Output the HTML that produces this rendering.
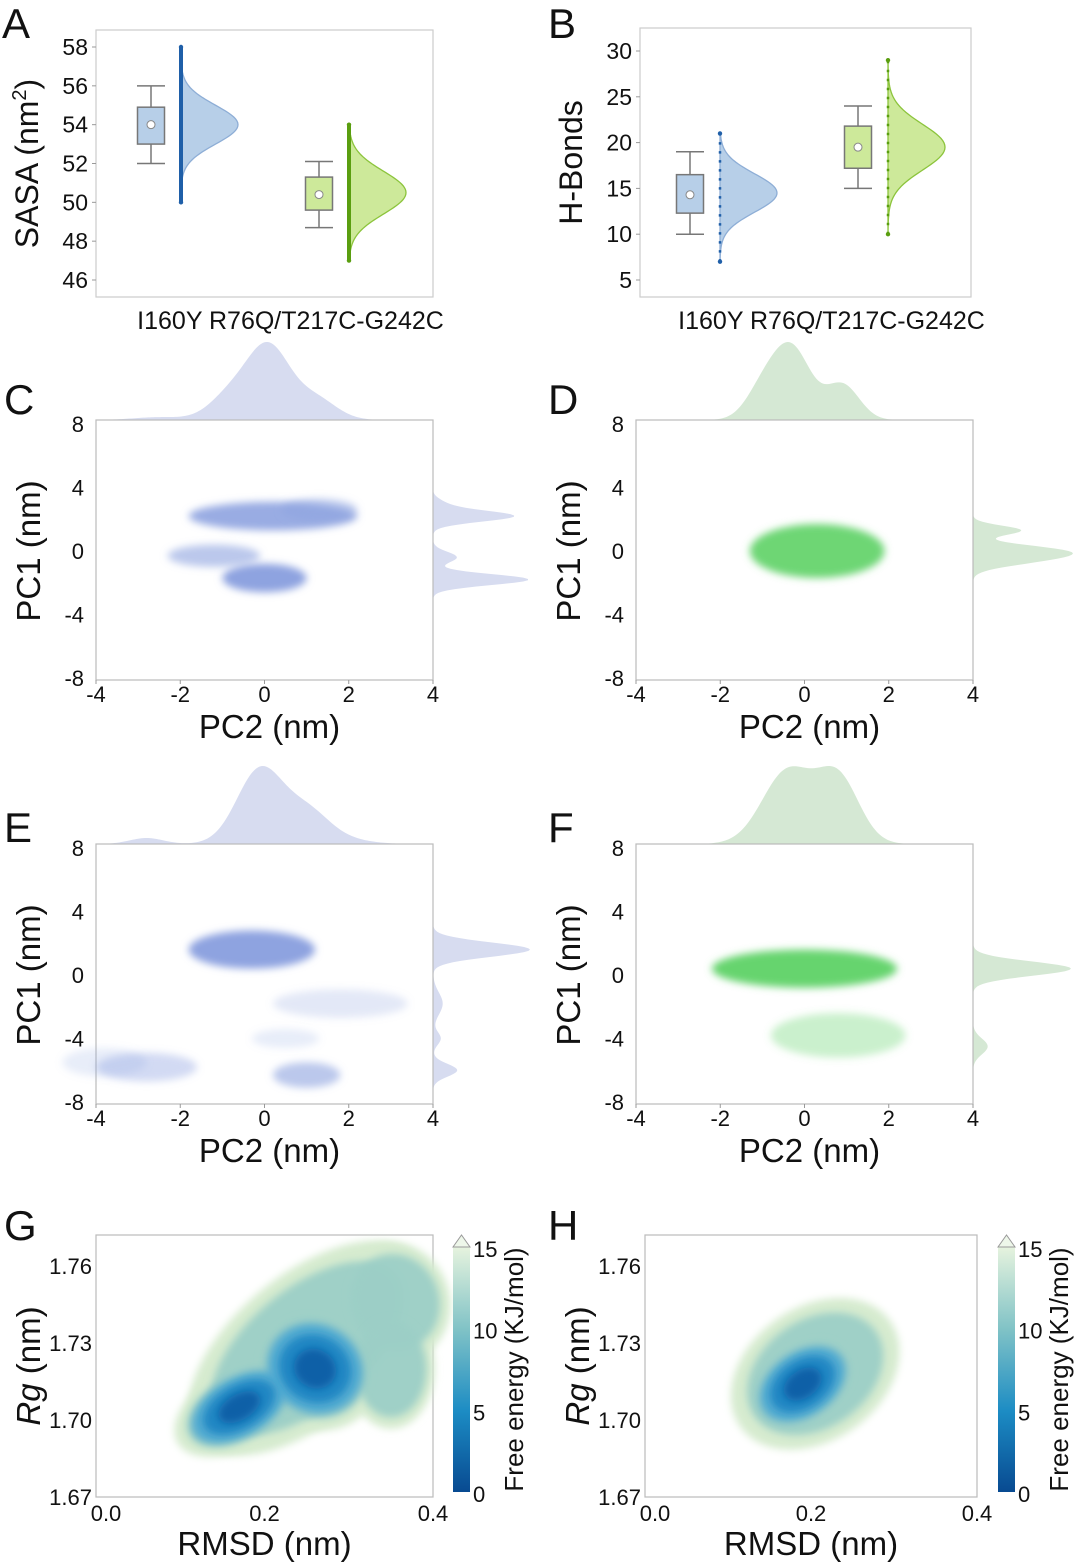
<!DOCTYPE html>
<html><head><meta charset="utf-8"><style>
html,body{margin:0;padding:0;background:#fff}
svg{display:block;font-family:"Liberation Sans",sans-serif}
</style></head><body>
<svg id="fig" width="1080" height="1564" viewBox="0 0 1080 1564" xmlns="http://www.w3.org/2000/svg">
<defs>
<filter id="blur4" x="-50%" y="-50%" width="200%" height="200%"><feGaussianBlur stdDeviation="4"/></filter>
<filter id="blur7" x="-50%" y="-50%" width="200%" height="200%"><feGaussianBlur stdDeviation="4"/></filter>
<linearGradient id="cbar" x1="0" y1="1" x2="0" y2="0">
<stop offset="0" stop-color="#084a91"/><stop offset="0.33" stop-color="#1c8cc4"/>
<stop offset="0.66" stop-color="#7fc2c6"/><stop offset="1" stop-color="#e6f3de"/></linearGradient>
</defs>
</svg>
<script>
// ---------- data ----------
const boxCats = ["I160Y", "R76Q/T217C-G242C"];
const sasaBox = [[52, 53, 54, 54.9, 56], [48.7, 49.6, 50.4, 51.3, 52.1]]; // whiskLo,q1,mean,q3,whiskHi
const sasaViolin = [[54, 1.0, 50, 58], [50.5, 1.1, 47, 54]]; // peak, sd, min, max
const hbBox = [[10, 12.3, 14.3, 16.5, 19], [15, 17.2, 19.5, 21.8, 24]];
const hbViolin = [[14.5, 2.1, 7, 21], [19.5, 2.5, 10, 29]];
const sasaTicks = [46, 48, 50, 52, 54, 56, 58];
const hbTicks = [5, 10, 15, 20, 25, 30];
const pcTicksX = [-4, -2, 0, 2, 4];
const pcTicksY = [8, 4, 0, -4, -8];
// clusters: cx, cy, rx, ry, alpha
const clustersC = [[0.2, 2.2, 2.0, 0.9, 0.9], [-1.2, -0.3, 1.1, 0.7, 0.6], [0, -1.7, 1.0, 0.9, 1.0], [1.3, 2.6, 0.9, 0.7, 0.5]];
const clustersD = [[0.3, 0, 1.6, 1.7, 0.95]];
const clustersE = [[-0.3, 1.6, 1.5, 1.2, 1], [1.8, -1.8, 1.6, 0.9, 0.25], [-2.8, -5.8, 1.2, 0.9, 0.4], [1, -6.3, 0.8, 0.8, 0.6], [0.5, -4, 0.8, 0.6, 0.2], [-3.8, -5.5, 1, 0.9, 0.2]];
const clustersF = [[0, 0.4, 2.2, 1.2, 1], [0.8, -3.8, 1.6, 1.4, 0.35]];
// marginal densities: pos, sd, height
const topC = [[0.1, 0.5, 1], [-0.8, 0.5, 0.35], [1.2, 0.5, 0.3], [-2.5, 0.6, 0.04]];
const rightC = [[2.2, 0.35, 0.85], [-1.8, 0.35, 1], [-0.4, 0.35, 0.25], [3, 0.3, 0.1]];
const topD = [[-0.3, 0.45, 1], [0.9, 0.4, 0.5], [-1, 0.4, 0.4]];
const rightD = [[1.3, 0.3, 0.6], [0, 0.4, 1], [-0.6, 0.4, 0.6]];
const topE = [[-0.1, 0.55, 1], [1, 0.5, 0.35], [-2.8, 0.4, 0.08], [1.5, 0.7, 0.1]];
const rightE = [[1.6, 0.45, 1], [-6, 0.4, 0.25], [-1.8, 0.7, 0.1], [-4, 0.4, 0.08]];
const topF = [[-0.4, 0.6, 0.9], [0.8, 0.5, 0.8]];
const rightF = [[0.4, 0.45, 1], [-4.5, 0.5, 0.15]];
// free energy basins: rmsd, rg, rx, ry, depth(0..1), rotation
const basinsG = [[0.25, 1.728, 0.13, 0.022, 0.3, -40], [0.355, 1.746, 0.05, 0.018, 0.3, -20], [0.35, 1.72, 0.04, 0.018, 0.3, 0], [0.17, 1.705, 0.065, 0.012, 1.0, -30], [0.26, 1.72, 0.055, 0.02, 1.0, -60]];
const basinsH = [[0.205, 1.718, 0.085, 0.02, 0.3, -35], [0.19, 1.714, 0.06, 0.013, 1.0, -35]];
const rmsdTicks = [0.0, 0.2, 0.4];
const rgTicks = [1.67, 1.70, 1.73, 1.76];
const cbTicks = [0, 5, 10, 15];

// ---------- helpers ----------
const S = document.getElementById('fig'), NS = "http://www.w3.org/2000/svg";
function mk(tag, a, parent) { const e = document.createElementNS(NS, tag); for (const k in a) e.setAttribute(k, a[k]); (parent || S).appendChild(e); return e; }
function txt(x, y, s, size, anchor, extra) { const t = mk('text', Object.assign({ x: x, y: y, 'font-size': size, 'text-anchor': anchor || 'middle', fill: '#111' }, extra || {})); t.textContent = s; return t; }
function lin(a, b, c, d) { return v => c + (v - a) / (b - a) * (d - c); }

[["A", 2, 38], ["B", 548, 38], ["C", 4, 414], ["D", 548, 414], ["E", 4, 842], ["F", 548, 842], ["G", 4, 1240], ["H", 548, 1240]].forEach(p => {
  const t = txt(p[1], p[2], p[0], 42, 'start');
  
  
});

// ---------- box + violin panels ----------
function boxPanel(bx, ticks, yLo, yHi, boxData, violData, title, key, catX) {
  const y = lin(yLo, yHi, bx.y1, bx.y0);
  const r = mk('rect', { x: bx.x0, y: bx.t, width: bx.x1 - bx.x0, height: bx.b - bx.t, fill: 'none', stroke: '#ccc', 'stroke-width': 1.2 });
   
  ticks.forEach(v => {
    mk('line', { x1: bx.x0 - 4, x2: bx.x0, y1: y(v), y2: y(v), stroke: '#999' });
    const t = txt(bx.x0 - 8, y(v) + 8, String(v), 23, 'end');
     
  });
  const yt = txt(0, 0, '', 32, 'middle', { transform: `translate(${bx.x0 - 58},${(bx.t + bx.b) / 2}) rotate(-90)` });
  yt.innerHTML = title;
   
  const cols = [['#b7cfe8', '#1f5fa8', '#8eaed6'], ['#cde99a', '#5a9e10', '#8cc43c']];
  boxData.forEach((d, i) => {
    const cx = catX[i], w = 27, g = mk('g', {});
     
    mk('line', { x1: cx, x2: cx, y1: y(d[0]), y2: y(d[4]), stroke: '#777', 'stroke-width': 1.5 }, g);
    mk('line', { x1: cx - 14, x2: cx + 14, y1: y(d[0]), y2: y(d[0]), stroke: '#777', 'stroke-width': 1.5 }, g);
    mk('line', { x1: cx - 14, x2: cx + 14, y1: y(d[4]), y2: y(d[4]), stroke: '#777', 'stroke-width': 1.5 }, g);
    mk('rect', { x: cx - w / 2, y: y(d[3]), width: w, height: y(d[1]) - y(d[3]), fill: cols[i][0], stroke: '#777', 'stroke-width': 1.5 }, g);
    mk('circle', { cx: cx, cy: y(d[2]), r: 4, fill: '#fff', stroke: '#888' }, g);
    const v = violData[i], vx = cx + 30, W = 57;
    let p = `M${vx},${y(v[2])}`;
    for (let k = 0; k <= 80; k++) { const val = v[2] + (v[3] - v[2]) * k / 80; p += ` L${vx + W * Math.exp(-((val - v[0]) ** 2) / (2 * v[1] * v[1]))},${y(val)}`; }
    p += ` L${vx},${y(v[3])} Z`;
    const vp = mk('path', { d: p, fill: cols[i][0], stroke: cols[i][2], 'stroke-width': 1.3 });
     
    mk('line', { x1: vx, x2: vx, y1: y(v[2]), y2: y(v[3]), stroke: cols[i][1], 'stroke-width': key === 'hbonds' ? 2.5 : 4, 'stroke-dasharray': key === 'hbonds' ? '2.5 6.5' : 'none' });
    mk('circle', { cx: vx, cy: y(v[2]), r: 2.2, fill: cols[i][1] }); mk('circle', { cx: vx, cy: y(v[3]), r: 2.2, fill: cols[i][1] });
  });
  const xl = txt((bx.x0 + bx.x1) / 2 + 26, bx.b + 32, boxCats.join(' '), 25);
   
}
boxPanel({ x0: 96, x1: 433, t: 30, b: 297, y0: 47, y1: 280 }, sasaTicks, 46, 58, sasaBox, sasaViolin, 'SASA (nm<tspan dy="-12" font-size="20">2</tspan><tspan dy="12">)</tspan>', 'sasa', [151, 319]);
boxPanel({ x0: 640, x1: 971, t: 28, b: 297, y0: 51, y1: 280 }, hbTicks, 5, 30, hbBox, hbViolin, 'H-Bonds', 'hbonds', [690, 858]);

// ---------- PCA panels ----------
function dens(peaks, v) { return peaks.reduce((s, p) => s + p[2] * Math.exp(-((v - p[0]) ** 2) / (2 * p[1] * p[1])), 0); }
function pcaPanel(bx, clusters, top, right, col, mcol, key, rMax) {
  const x = lin(-4, 4, bx.x0, bx.x1), y = lin(8, -8, bx.y0, bx.y1);
  let maxT = 0; for (let k = 0; k <= 200; k++) maxT = Math.max(maxT, dens(top, -4 + 8 * k / 200));
  let p = `M${x(-4)},${bx.y0 - 4}`;
  for (let k = 0; k <= 200; k++) { const v = -4 + 8 * k / 200; p += ` L${x(v)},${bx.y0 - 4 - 78 * dens(top, v) / maxT}`; }
  p += ` L${x(4)},${bx.y0 - 4} Z`;
  const tp = mk('path', { d: p, fill: mcol });
   
  let maxR = 0; for (let k = 0; k <= 200; k++) maxR = Math.max(maxR, dens(right, -8 + 16 * k / 200));
  p = `M${bx.x1},${y(8)}`;
  for (let k = 0; k <= 200; k++) { const v = 8 - 16 * k / 200; p += ` L${bx.x1 + rMax * dens(right, v) / maxR},${y(v)}`; }
  p += ` L${bx.x1},${y(-8)} Z`;
  const rp = mk('path', { d: p, fill: mcol });
   
  const r = mk('rect', { x: bx.x0, y: bx.y0 - 4, width: bx.x1 - bx.x0, height: bx.y1 - bx.y0 + 6, fill: '#fff', stroke: '#bbb', 'stroke-width': 1.2 });
   
  clusters.forEach((c, i) => {
    const e = mk('ellipse', { cx: x(c[0]), cy: y(c[1]), rx: (x(c[2]) - x(0)), ry: (y(0) - y(c[3])), fill: col, 'fill-opacity': c[4], filter: 'url(#blur4)' });
     
  });
  pcTicksX.forEach(v => {
    mk('line', { x1: x(v), x2: x(v), y1: bx.y1 + 2, y2: bx.y1 + 6, stroke: '#999' });
    const t = txt(x(v), bx.y1 + 24, String(v), 22);
     
  });
  pcTicksY.forEach(v => {
    const t = txt(bx.x0 - 12, y(v) + 8, String(v), 22, 'end');
     
  });
  const xt = txt((bx.x0 + bx.x1) / 2 + 5, bx.y1 + 60, 'PC2 (nm)', 33);
   
  const yt = txt(0, 0, 'PC1 (nm)', 33, 'middle', { transform: `translate(${bx.x0 - 56},${(bx.y0 + bx.y1) / 2}) rotate(-90)` });
   
}
const blueC = '#8ea3e0', blueM = '#d7dcf0', greenC = '#66d46e', greenM = '#d5e8d4';
pcaPanel({ x0: 96, x1: 433, y0: 424, y1: 678 }, clustersC, topC, rightC, blueC, blueM, 'pca-c', 95);
pcaPanel({ x0: 636, x1: 973, y0: 424, y1: 678 }, clustersD, topD, rightD, greenC, greenM, 'pca-d', 100);
pcaPanel({ x0: 96, x1: 433, y0: 848, y1: 1102 }, clustersE, topE, rightE, blueC, blueM, 'pca-e', 97);
pcaPanel({ x0: 636, x1: 973, y0: 848, y1: 1102 }, clustersF, topF, rightF, greenC, greenM, 'pca-f', 98);

// ---------- free energy panels ----------
function fePanel(bx, basins, cbx, key) {
  const x = lin(0, 0.4, bx.x0, bx.x1), y = lin(1.67, 1.76, bx.y1, bx.y0ref);
  const r = mk('rect', { x: bx.x0, y: bx.t, width: bx.x1 - bx.x0, height: bx.y1 - bx.t, fill: '#fff', stroke: '#bbb', 'stroke-width': 1.2 });
   
  const layers = [[1.3, '#d6ebcf', 1], [1.05, '#9ccfc6', 0.95], [0.95, '#4fa9d2', 0.95], [0.72, '#1a85c3', 0.95], [0.42, '#0b5ea5', 0.95]];
  const g = mk('g', {});  
  layers.forEach((L, li) => basins.forEach(b => {
    if (li >= 2 && b[4] < 0.5) return;
    const s = L[0];
    mk('ellipse', { cx: x(b[0]), cy: y(b[1]), rx: (x(b[2]) - x(0)) * s, ry: (y(1.67) - y(1.67 + b[3])) * s, fill: L[1], 'fill-opacity': L[2], filter: 'url(#blur7)', transform: `rotate(${b[5]} ${x(b[0])} ${y(b[1])})` }, g);
  }));
  rmsdTicks.forEach((v, i) => {
    const t = txt(x(v) + (i === 0 ? 10 : 0), bx.y1 + 24, v.toFixed(1), 22);
     
  });
  rgTicks.forEach(v => {
    const t = txt(bx.x0 - 4, y(v) + 8, v.toFixed(2), 22, 'end');
     
  });
  const xt = txt((bx.x0 + bx.x1) / 2, bx.y1 + 58, 'RMSD (nm)', 33);
   
  const yt = txt(0, 0, '', 33, 'middle', { transform: `translate(${bx.x0 - 56},${(bx.t + bx.y1) / 2}) rotate(-90)` });
  yt.innerHTML = '<tspan font-style="italic">Rg</tspan> (nm)';
   
  const cy = lin(0, 15, 1492, 1247);
  const cb = mk('rect', { x: cbx, y: cy(15), width: 17, height: cy(0) - cy(15), fill: 'url(#cbar)' });
   
  mk('path', { d: `M${cbx},${cy(15)} L${cbx + 8.5},${cy(15) - 12} L${cbx + 17},${cy(15)} Z`, fill: '#eef7ea', stroke: '#999' });
  cbTicks.forEach(v => {
    const t = txt(cbx + 20, cy(v) + 10, String(v), 22, 'start');
     
  });
  const ct = txt(0, 0, 'Free energy (KJ/mol)', 26, 'middle', { transform: `translate(${cbx + 70},${cy(7.5)}) rotate(-90)` });
   
}
fePanel({ x0: 96, x1: 433, t: 1235, y1: 1497, y0ref: 1266 }, basinsG, 453, 'fe-g');
fePanel({ x0: 645, x1: 977, t: 1235, y1: 1497, y0ref: 1266 }, basinsH, 998, 'fe-h');
</script>
</body></html>
